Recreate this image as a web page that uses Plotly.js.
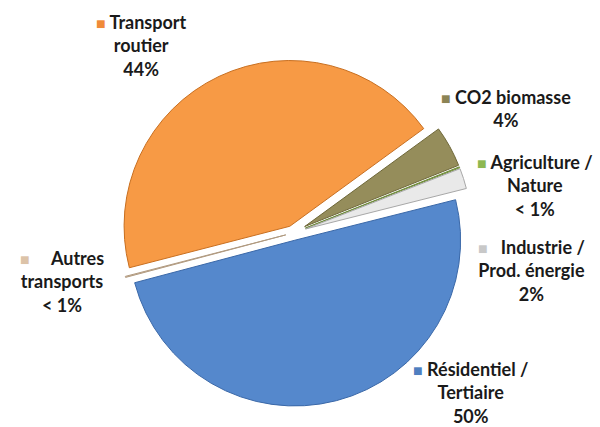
<!DOCTYPE html>
<html>
<head>
<meta charset="utf-8">
<script src="https://cdn.plot.ly/plotly-3.0.1.min.js"></script>
<style>html,body{margin:0;padding:0;background:#fff;}#chart{width:600px;height:427px;}</style>
</head>
<body>
<div id="chart"></div>
<script>
// Data (clockwise order starting at the left edge of "Transport routier")
const labels = ["Transport routier", "CO2 biomasse", "Agriculture / Nature", "Industrie / Prod. énergie", "Résidentiel / Tertiaire", "Autres transports"];
const values = [44, 4, 0.1, 2, 49.8, 0.1];
const pctText = ["44%", "4%", "< 1%", "2%", "50%", "< 1%"];
const labelLines = [["Transport", "routier"], ["CO2 biomasse"], ["Agriculture /", "Nature"], ["Industrie /", "Prod. énergie"], ["Résidentiel /", "Tertiaire"], ["Autres", "transports"]];

// Styles
const colors = ["#F79A45", "#958D5B", "#9BBB59", "#E9E9E9", "#5588CC", "#DCC3A8"];
const edgeColors = ["#C86F20", "#6E6738", "#6E8A3A", "#A8A8A8", "#3A68A8", "#B09A80"];
const keyColors = ["#F08A38", "#8C8455", "#8DB851", "#C8C8C8", "#4F7FC0", "#DCC3A8"];
const pulls = [0.045, 0.08, 0.08, 0.08, 0.045, 0.045];
// label block centres (paper px) and key gaps
const labelPos = [[141, 45], [506, 108], [535, 185], [531, 270], [470, 392], [62, 281]];
const keyGap = [" ", " ", " ", "\u00a0\u00a0\u00a0", " ", "\u00a0\u00a0\u00a0\u00a0\u00a0"];

const W = 600, H = 427;
const annotations = labels.map((l, i) => {
  const lines = labelLines[i].slice();
  lines[0] = '<span style="color:' + keyColors[i] + ';font-size:16px">■</span>' + keyGap[i] + lines[0];
  lines.push(pctText[i]);
  return {
    x: labelPos[i][0] / W, y: 1 - labelPos[i][1] / H,
    xref: "paper", yref: "paper", xanchor: "center", yanchor: "middle",
    text: lines.join("<br>"), showarrow: false, align: "center",
    font: {family: "Lato, 'Open Sans', sans-serif", size: 18, color: "#1a1a1a", weight: "bold"}
  };
});

const cx = 293, cy = 233, R = 179;
const trace = {
  type: "pie",
  labels: labels,
  values: values,
  sort: false,
  direction: "clockwise",
  rotation: -104.5,
  pull: pulls,
  textinfo: "none",
  hoverinfo: "label+percent",
  marker: {colors: colors, line: {color: edgeColors, width: 1}},
  domain: {x: [(cx - R) / W, (cx + R) / W], y: [1 - (cy + R) / H, 1 - (cy - R) / H]}
};

const layout = {
  width: W, height: H,
  margin: {l: 0, r: 0, t: 0, b: 0},
  paper_bgcolor: "#ffffff",
  showlegend: false,
  annotations: annotations
};
Plotly.newPlot("chart", [trace], layout, {displayModeBar: false, staticPlot: true});
</script>
</body>
</html>
